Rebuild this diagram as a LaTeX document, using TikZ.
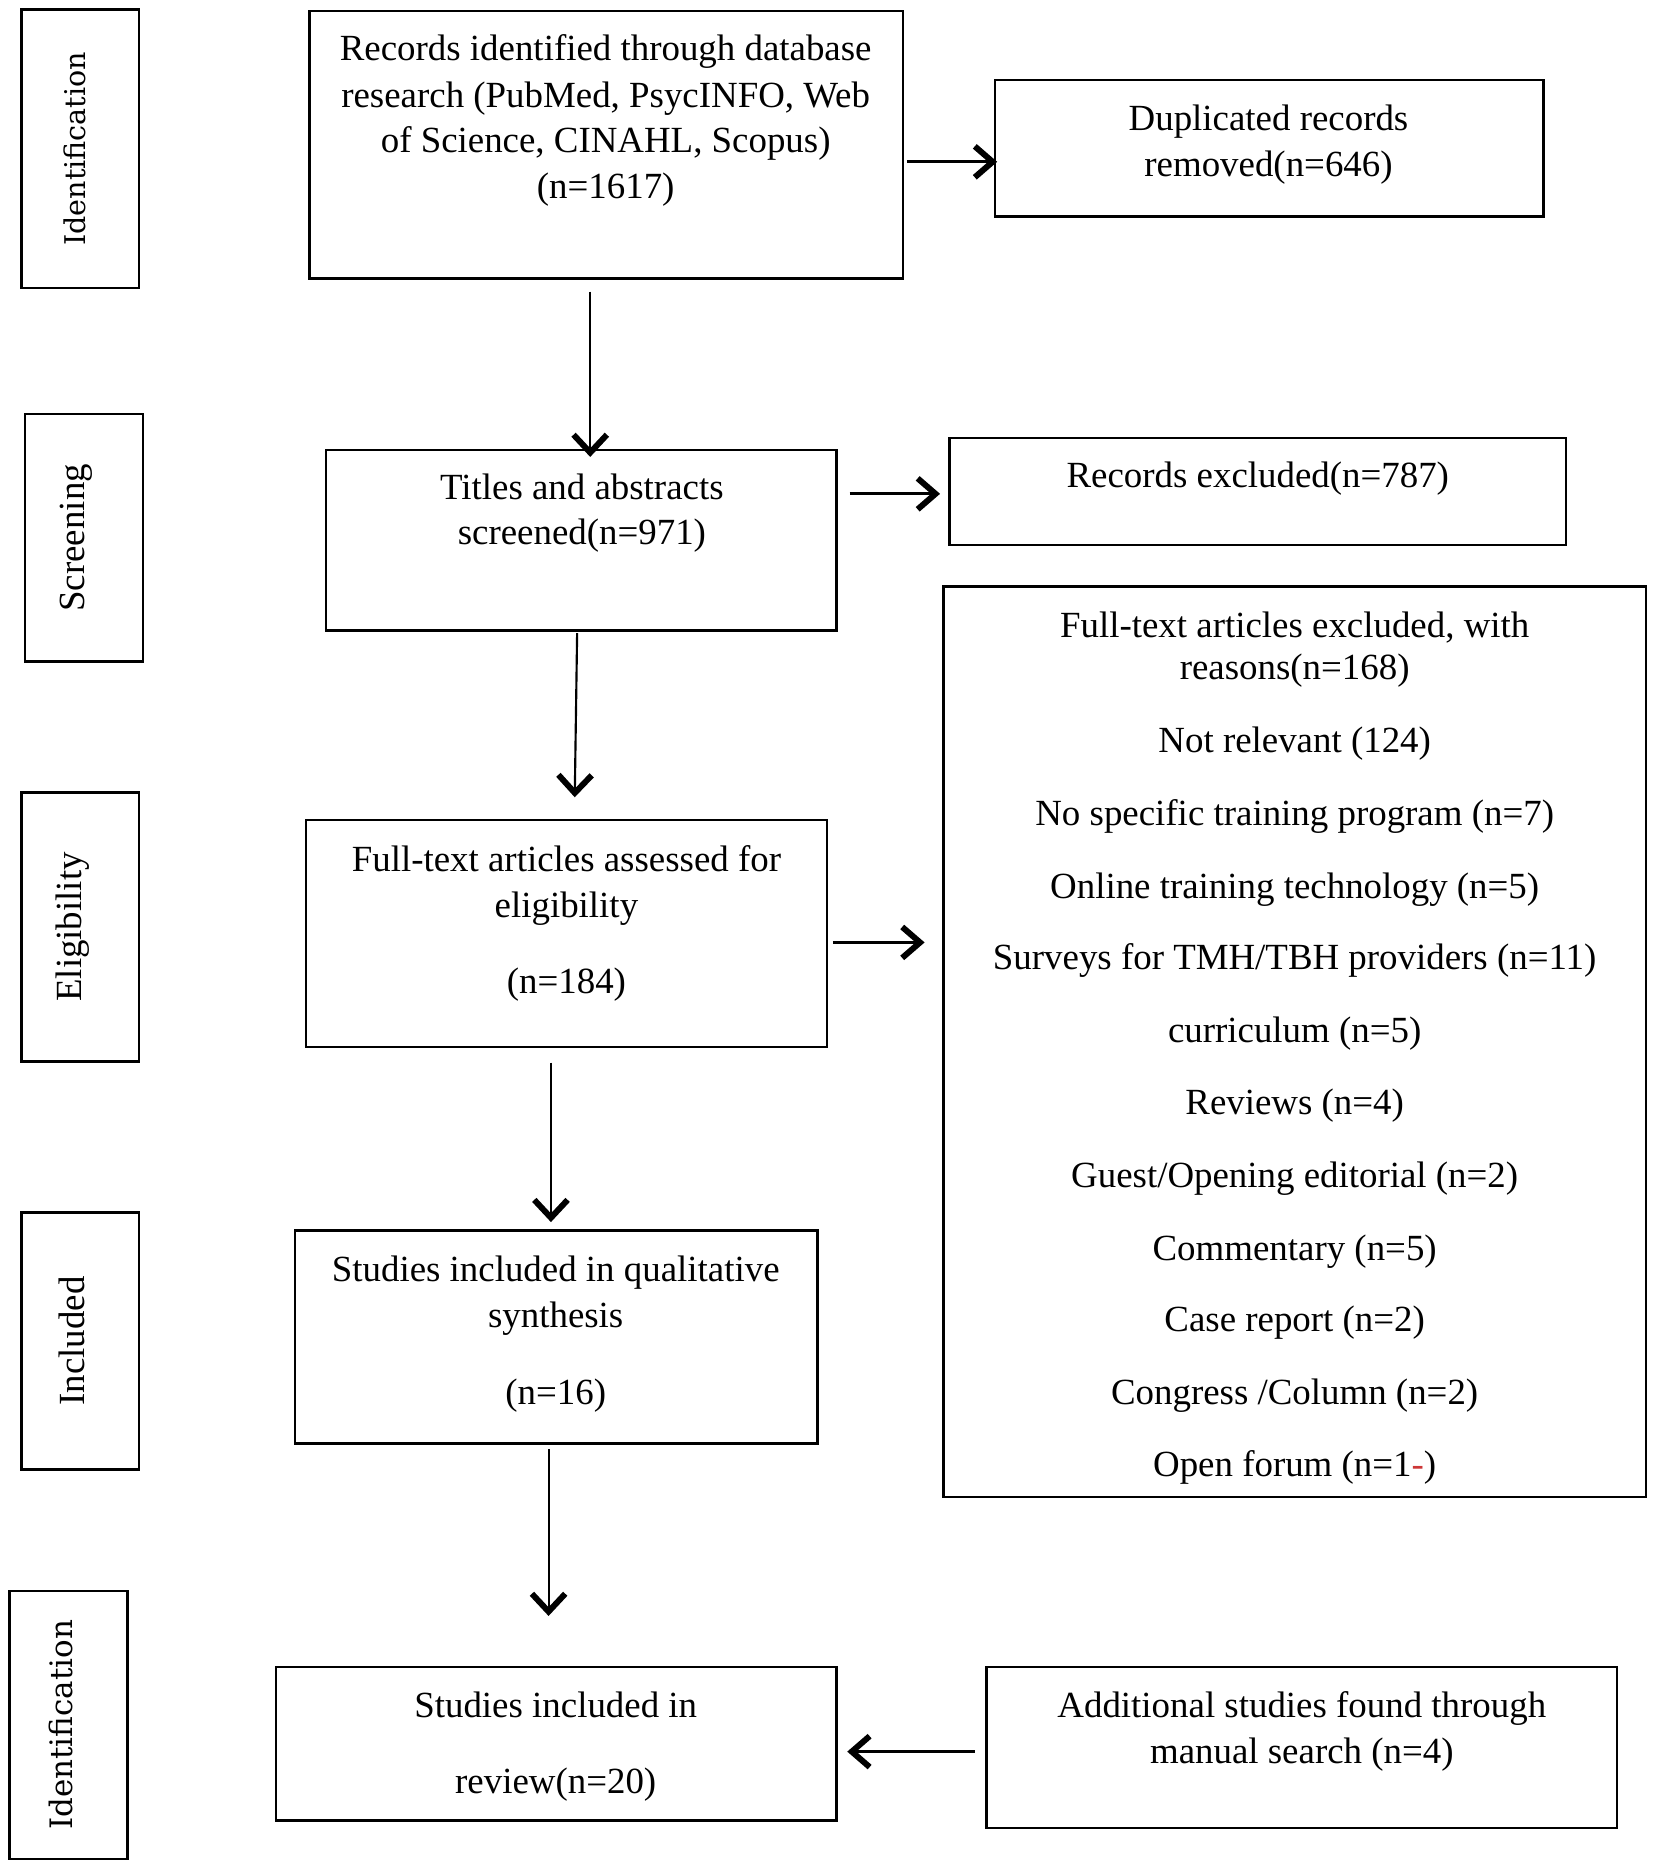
\documentclass[tikz,border=0pt]{standalone}
\usepackage{fontspec}
\setmainfont{Liberation Serif}
\newfontfamily\idfont{DejaVu Serif}
\usetikzlibrary{arrows.meta,calc}
\definecolor{redmark}{RGB}{205,55,55}
\begin{document}
\begin{tikzpicture}[x=1pt,y=1pt,
  box/.style={draw, line width=2pt, rectangle, inner sep=0pt, outer sep=0pt, anchor=north west},
  txt/.style={inner sep=0pt, anchor=base, font=\fontsize{31}{38}\selectfont, yshift=-2pt},
  stage/.style={rotate=90, inner sep=0pt, anchor=center, font=\fontsize{31}{38}\selectfont},
  idstage/.style={rotate=90, inner sep=0pt, anchor=center, font=\idfont\fontsize{24}{30}\selectfont},
  varr/.style={line width=1.8pt, -{Straight Barb[length=15pt,width=28pt,line width=5pt]}},
  harr/.style={line width=2.5pt, -{Straight Barb[length=15pt,width=26pt,line width=5pt]}},
]
\useasboundingbox (0,0) rectangle (1390,-1567.3);
\fill[white] (0,0) rectangle (1390,-1567.3);

% stage boxes
\node[box, minimum width=99pt, minimum height=234pt] (s1) at (18,-8) {};
\node[box, minimum width=99pt, minimum height=208pt] (s2) at (21,-348) {};
\node[box, minimum width=99pt, minimum height=226pt] (s3) at (18,-666) {};
\node[box, minimum width=99pt, minimum height=216pt] (s4) at (18,-1019) {};
\node[box, minimum width=99pt, minimum height=225pt] (s5) at (8,-1337) {};
\node[idstage] (l1) at ($(s1.center)+(-5,0)$) {Identification};
\node[stage] (l2) at ($(s2.center)+(-6,0)$) {Screening};
\node[stage] (l3) at ($(s3.center)+(-6,0)$) {Eligibility};
\node[stage] (l4) at ($(s4.center)+(-7,0)$) {Included};
\node[idstage, font=\idfont\fontsize{26}{30}\selectfont] (l5) at ($(s5.center)+(-6,0)$) {Identification};

% main boxes
\node[box, minimum width=499pt, minimum height=225pt] (A) at (260,-9) {};
\node[box, minimum width=461pt, minimum height=115pt] (B) at (836,-67) {};
\node[box, minimum width=429pt, minimum height=152pt] (C) at (274,-378) {};
\node[box, minimum width=518pt, minimum height=90pt] (D) at (798,-368) {};
\node[box, minimum width=438pt, minimum height=191pt] (E) at (257,-689) {};
\node[box, minimum width=590pt, minimum height=765pt] (F) at (793,-493) {};
\node[box, minimum width=439pt, minimum height=179pt] (G) at (248,-1034) {};
\node[box, minimum width=471pt, minimum height=129pt] (H) at (232,-1401) {};
\node[box, minimum width=530pt, minimum height=135pt] (I) at (829,-1401) {};

% texts
\node[txt] (a1) at (509,-49) {Records identified through database};
\node[txt] (a2) at (509,-88) {research (PubMed, PsycINFO, Web};
\node[txt] (a3) at (509,-126) {of Science, CINAHL, Scopus)};
\node[txt] (a4) at (509,-165) {(n=1617)};

\node[txt] (b1) at (1066,-108) {Duplicated records};
\node[txt] (b2) at (1066,-146) {removed(n=646)};

\node[txt] (c1) at (489,-418) {Titles and abstracts};
\node[txt] (c2) at (489,-456) {screened(n=971)};

\node[txt] (d1) at (1057,-408) {Records excluded(n=787)};

\node[txt] (e1) at (476,-730) {Full-text articles assessed for};
\node[txt] (e2) at (476,-769) {eligibility};
\node[txt] (e3) at (476,-833) {(n=184)};

\node[txt] (f1) at (1088,-534) {Full-text articles excluded, with};
\node[txt] (f2) at (1088,-569) {reasons(n=168)};
\node[txt] (f3) at (1088,-630) {Not relevant (124)};
\node[txt] (f4) at (1088,-692) {No specific training program (n=7)};
\node[txt] (f5) at (1088,-753) {Online training technology (n=5)};
\node[txt] (f6) at (1088,-813) {Surveys for TMH/TBH providers (n=11)};
\node[txt] (f7) at (1088,-874) {curriculum (n=5)};
\node[txt] (f8) at (1088,-935) {Reviews (n=4)};
\node[txt] (f9) at (1088,-996) {Guest/Opening editorial (n=2)};
\node[txt] (f10) at (1088,-1057) {Commentary (n=5)};
\node[txt] (f11) at (1088,-1117) {Case report (n=2)};
\node[txt] (f12) at (1088,-1178) {Congress /Column (n=2)};
\node[txt] (f13) at (1088,-1239) {Open forum (n=1\textcolor{redmark}{-})};

\node[txt] (g1) at (467,-1075) {Studies included in qualitative};
\node[txt] (g2) at (467,-1114) {synthesis};
\node[txt] (g3) at (467,-1178) {(n=16)};

\node[txt] (h1) at (467,-1441) {Studies included in};
\node[txt] (h2) at (467,-1505) {review(n=20)};

\node[txt] (i1) at (1094,-1441) {Additional studies found through};
\node[txt] (i2) at (1094,-1480) {manual search (n=4)};

% arrows
\draw[harr] ($(A.north east)+(3,-127)$) -- ($(B.north west)+(2,-69)$);
\draw[varr] ($(A.south west)+(236,-11)$) -- ($(C.north west)+(222,-6)$);
\draw[harr] ($(C.north east)+(11,-37)$) -- ($(D.north west)+(-8,-47)$);
\draw[varr] ($(C.south west)+(211,-2)$) -- ($(E.north west)+(226,19)$);
\draw[harr] ($(E.north east)+(5,-103)$) -- ($(F.north west)+(-16,-299)$);
\draw[varr] ($(E.south west)+(206,-13)$) -- ($(G.north west)+(215,7)$);
\draw[varr] ($(G.south west)+(213,-5)$) -- ($(H.north west)+(229,43)$);
\draw[harr] ($(I.south west)+(-10,64)$) -- ($(H.north east)+(9,-71)$);
\end{tikzpicture}
\end{document}
